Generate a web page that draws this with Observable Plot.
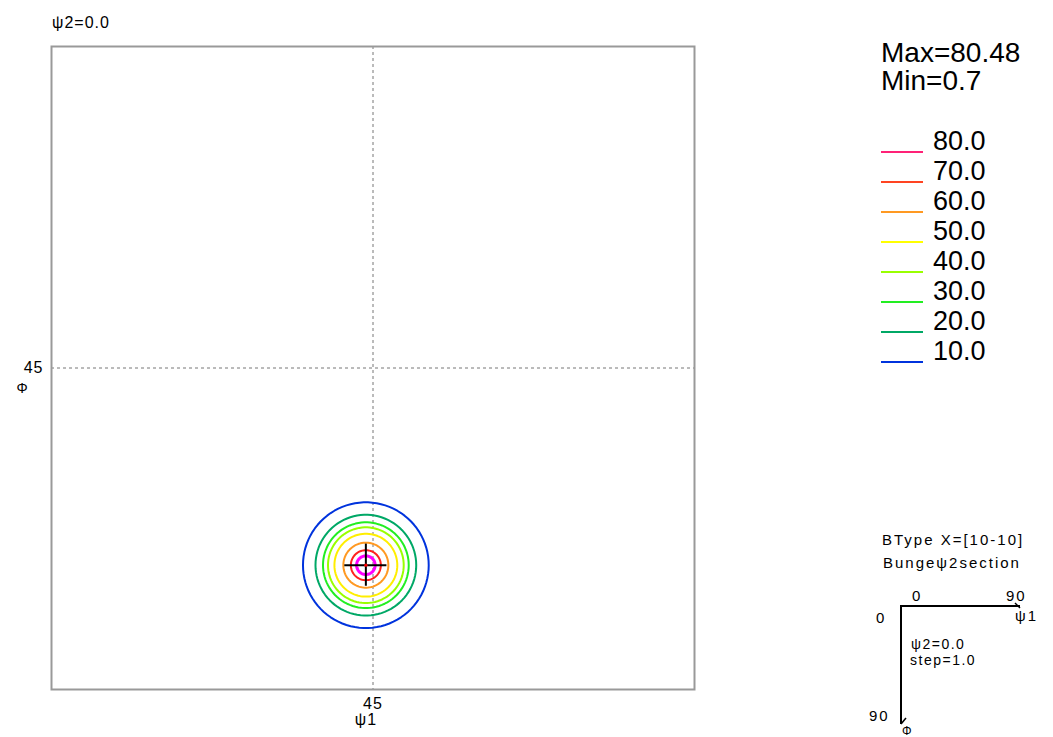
<!DOCTYPE html>
<html>
<head>
<meta charset="utf-8">
<script src="https://cdn.jsdelivr.net/npm/d3@7"></script>
<script src="https://cdn.jsdelivr.net/npm/@observablehq/plot@0.6"></script>
<style>
  html, body { margin: 0; padding: 0; background: #fff; }
  #wrap { position: relative; width: 1053px; height: 737px; overflow: hidden; }
  #wrap > svg { position: absolute; left: 0; top: 0; }
  #overlay { position: absolute; left: 0; top: 0; pointer-events: none; }
  #overlay text { font-family: "Liberation Sans", Arial, sans-serif; fill: #000; }
</style>
</head>
<body>
<div id="wrap"></div>
<script>
// ---- data ----
const levels = [80, 70, 60, 50, 40, 30, 20, 10];
const levelLabels = ["80.0", "70.0", "60.0", "50.0", "40.0", "30.0", "20.0", "10.0"];
const legendColors = ["#ff2277", "#ff4422", "#ff9922", "#ffff00", "#99ff00", "#22ee22", "#00a866", "#0033dd"];
const contourColors = ["#ff00ff", "#ff2020", "#ff9922", "#ffee00", "#99ff00", "#22ee22", "#00a866", "#0033dd"];
const contourRadii = [1.3, 2.1, 3.15, 4.4, 5.3, 6.0, 7.05, 8.8]; // degrees
const peakPsi1 = 44.0;
const peakPhi = 72.6;
const crossHalf = 2.95;
const maxValue = 80.48;
const minValue = 0.7;
const section = "ψ2=0.0";
const stepLabel = "step=1.0";
const tickValues = [45];
const axisDomain = [0, 90];

// ---- contour polylines (circles around the peak) ----
const angles = d3.range(0, 360, 4);
const rings = [];
levels.forEach((lv, i) => {
  angles.forEach(a => {
    const t = a * Math.PI / 180;
    rings.push({
      level: lv,
      color: contourColors[i],
      x: peakPsi1 + contourRadii[i] * Math.cos(t),
      y: peakPhi + contourRadii[i] * Math.sin(t)
    });
  });
});
const outerRings = rings.filter(d => d.level !== 80);
const innerRing = rings.filter(d => d.level === 80);

const chart = Plot.plot({
  width: 1053,
  height: 737,
  marginLeft: 51,
  marginRight: 359,
  marginTop: 46,
  marginBottom: 48,
  x: { domain: axisDomain, ticks: tickValues, tickSize: 0, tickPadding: 8, label: null },
  y: { domain: axisDomain, reverse: true, ticks: tickValues, tickSize: 0, tickPadding: 8, label: null },
  color: { type: "identity" },
  style: { fontFamily: "Liberation Sans, Arial, sans-serif", fontSize: "16px", background: "#fff", color: "#000", letterSpacing: "1px" },
  marks: [
    Plot.ruleX(tickValues, { stroke: "#777", strokeDasharray: "3,3", strokeWidth: 1 }),
    Plot.ruleY(tickValues, { stroke: "#777", strokeDasharray: "3,3", strokeWidth: 1 }),
    Plot.line(outerRings, { x: "x", y: "y", z: "level", stroke: "color", curve: "linear-closed", strokeWidth: 2 }),
    Plot.line(innerRing, { x: "x", y: "y", z: "level", stroke: "color", curve: "linear-closed", strokeWidth: 3 }),
    Plot.ruleX([peakPsi1], { y1: peakPhi - crossHalf, y2: peakPhi + crossHalf, stroke: "#000", strokeWidth: 2 }),
    Plot.ruleY([peakPhi], { x1: peakPsi1 - crossHalf, x2: peakPsi1 + crossHalf, stroke: "#000", strokeWidth: 2 }),
    Plot.dot([[peakPsi1, peakPhi]], { x: d => d[0], y: d => d[1], r: 1.6, fill: "#ff0000", stroke: null }),
    Plot.frame({ stroke: "#999", strokeWidth: 2 }),
    Plot.text(["ψ1"], { x: () => tickValues[0], text: d => d, frameAnchor: "bottom", dy: 35, dx: -7 }),
    Plot.text(["Φ"], { y: () => tickValues[0], text: d => d, frameAnchor: "left", dx: -35, dy: 21, fontSize: 14 })
  ]
});
const wrap = document.getElementById("wrap");
wrap.appendChild(chart);

// ---- overlay: section title, legend, orientation key ----
const ov = d3.select(wrap).append("svg")
  .attr("id", "overlay").attr("width", 1053).attr("height", 737);

ov.append("text").attr("x", 52).attr("y", 28).attr("font-size", 16).attr("letter-spacing", 1).text(section);

ov.append("text").attr("x", 881).attr("y", 62).attr("font-size", 28).text("Max=" + maxValue);
ov.append("text").attr("x", 881).attr("y", 90).attr("font-size", 28).text("Min=" + minValue);

const leg = ov.append("g");
levels.forEach((lv, i) => {
  const y0 = 152 + i * 30;
  leg.append("line").attr("x1", 881).attr("x2", 923).attr("y1", y0).attr("y2", y0)
    .attr("stroke", legendColors[i]).attr("stroke-width", 2);
  leg.append("text").attr("x", 933).attr("y", y0 - 2).attr("font-size", 27).text(levelLabels[i]);
});

const key = ov.append("g").attr("font-size", 15).attr("letter-spacing", 2);
key.append("text").attr("x", 882).attr("y", 545).text("BType X=[10-10]");
key.append("text").attr("x", 883).attr("y", 568).text("Bungeψ2section");
key.append("text").attr("x", 912).attr("y", 601).text(axisDomain[0]);
key.append("text").attr("x", 1006).attr("y", 601).text(axisDomain[1]);
key.append("text").attr("x", 876).attr("y", 623).text(axisDomain[0]);
key.append("text").attr("x", 869).attr("y", 721).text(axisDomain[1]);
key.append("text").attr("x", 1015).attr("y", 621).text("ψ1");
key.append("text").attr("x", 902).attr("y", 735).attr("font-size", 12).text("Φ");
key.append("text").attr("x", 911).attr("y", 649).attr("font-size", 14).attr("letter-spacing", 1.5).text(section);
key.append("text").attr("x", 910).attr("y", 665).attr("font-size", 14).attr("letter-spacing", 1.5).text(stepLabel);
key.append("path").attr("d", "M901,724 V606 H1020").attr("fill", "none").attr("stroke", "#000").attr("stroke-width", 2);
key.append("path").attr("d", "M1015,603 L1020,608").attr("stroke", "#000").attr("stroke-width", 1.5);
key.append("path").attr("d", "M901,724 L906,718").attr("stroke", "#000").attr("stroke-width", 1.5);
</script>
</body>
</html>
